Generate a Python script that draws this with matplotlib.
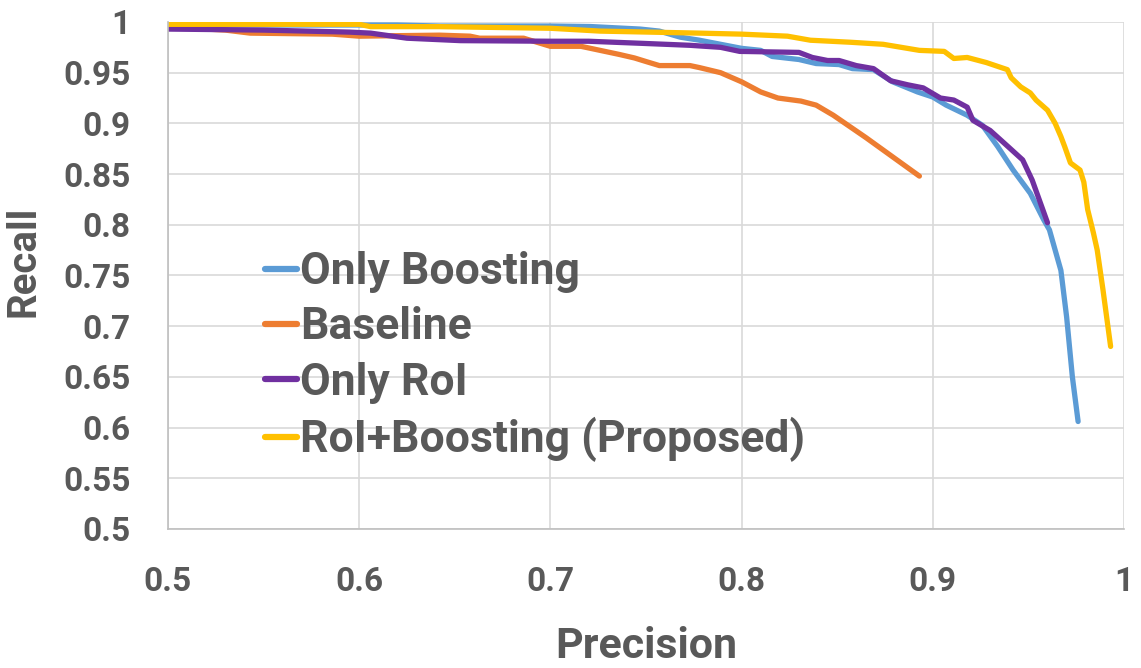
import matplotlib
matplotlib.use("Agg")
import matplotlib.pyplot as plt

# precision / recall
boost_p = [0.500, 0.560, 0.620, 0.642, 0.700, 0.721, 0.747, 0.757, 0.768, 0.778,
           0.789, 0.800, 0.810, 0.816, 0.830, 0.839, 0.851, 0.858, 0.869, 0.879,
           0.892, 0.900, 0.907, 0.918, 0.926, 0.934, 0.942, 0.951, 0.958, 0.961,
           0.967, 0.970, 0.973, 0.976]
boost_r = [0.997, 0.997, 0.997, 0.996, 0.996, 0.9955, 0.993, 0.991, 0.985, 0.982,
           0.978, 0.974, 0.972, 0.966, 0.963, 0.959, 0.958, 0.954, 0.953, 0.941,
           0.931, 0.926, 0.918, 0.908, 0.898, 0.877, 0.854, 0.831, 0.805, 0.795,
           0.755, 0.709, 0.650, 0.606]

base_p = [0.500, 0.530, 0.543, 0.586, 0.600, 0.642, 0.658, 0.663, 0.686, 0.700,
          0.716, 0.726, 0.736, 0.744, 0.750, 0.757, 0.773, 0.778, 0.789, 0.800,
          0.810, 0.819, 0.831, 0.839, 0.848, 0.865, 0.893]
base_r = [0.995, 0.992, 0.989, 0.988, 0.986, 0.987, 0.986, 0.984, 0.984, 0.976,
          0.976, 0.972, 0.968, 0.9645, 0.961, 0.957, 0.957, 0.955, 0.950, 0.941,
          0.931, 0.925, 0.922, 0.918, 0.908, 0.886, 0.848]

roi_p = [0.500, 0.550, 0.595, 0.606, 0.625, 0.653, 0.700, 0.720, 0.747, 0.773,
         0.789, 0.799, 0.830, 0.837, 0.845, 0.851, 0.860, 0.869, 0.878, 0.887,
         0.895, 0.904, 0.911, 0.918, 0.921, 0.930, 0.940, 0.947, 0.952, 0.960]
roi_r = [0.993, 0.992, 0.990, 0.989, 0.984, 0.9816, 0.981, 0.981, 0.979, 0.977,
         0.975, 0.971, 0.970, 0.965, 0.962, 0.962, 0.957, 0.954, 0.942, 0.938,
         0.935, 0.925, 0.923, 0.916, 0.903, 0.893, 0.876, 0.864, 0.844, 0.802]

prop_p = [0.500, 0.600, 0.606, 0.642, 0.700, 0.726, 0.778, 0.800, 0.824, 0.836,
          0.857, 0.874, 0.893, 0.906, 0.911, 0.918, 0.928, 0.939, 0.941, 0.946,
          0.951, 0.954, 0.960, 0.964, 0.967, 0.969, 0.972, 0.977, 0.979, 0.981,
          0.984, 0.986, 0.989, 0.993]
prop_r = [0.9977, 0.9977, 0.9954, 0.9954, 0.9938, 0.991, 0.989, 0.988, 0.986, 0.982,
          0.980, 0.978, 0.972, 0.971, 0.964, 0.965, 0.960, 0.953, 0.945, 0.936,
          0.930, 0.923, 0.913, 0.900, 0.887, 0.877, 0.861, 0.854, 0.842, 0.815,
          0.792, 0.775, 0.736, 0.680]

x_ticks = [0.5, 0.6, 0.7, 0.8, 0.9, 1.0]
x_labels = ["0.5", "0.6", "0.7", "0.8", "0.9", "1"]
y_ticks = [0.5, 0.55, 0.6, 0.65, 0.7, 0.75, 0.8, 0.85, 0.9, 0.95, 1.0]
y_labels = ["0.5", "0.55", "0.6", "0.65", "0.7", "0.75", "0.8", "0.85", "0.9", "0.95", "1"]

plt.rcParams['font.family'] = ['Roboto', 'DejaVu Sans']
grey = '#595959'

fig = plt.figure(figsize=(11.41, 6.68), dpi=100)
ax = fig.add_axes([0.1472, 0.2081, 0.8379, 0.7590])

lw = 3.8
ax.plot(boost_p, boost_r, color='#5B9BD5', lw=lw, solid_capstyle='round',
        solid_joinstyle='round', label="Only Boosting")
ax.plot(base_p, base_r, color='#ED7D31', lw=lw, solid_capstyle='round',
        solid_joinstyle='round', label="Baseline")
ax.plot(roi_p, roi_r, color='#7030A0', lw=lw, solid_capstyle='round',
        solid_joinstyle='round', label="Only RoI")
ax.plot(prop_p, prop_r, color='#FFC000', lw=lw, solid_capstyle='round',
        solid_joinstyle='round', label="RoI+Boosting (Proposed)")

ax.set_xlim(0.5, 1.0)
ax.set_ylim(0.5, 1.0)
ax.set_xticks(x_ticks)
ax.set_xticklabels(x_labels)
ax.set_yticks(y_ticks)
ax.set_yticklabels(y_labels)
ax.grid(True, color='#D9D9D9', lw=1.2)
ax.set_axisbelow(True)
ax.tick_params(length=0, labelsize=24, labelcolor=grey, pad=27)
for lab in ax.get_xticklabels() + ax.get_yticklabels():
    lab.set_fontweight('bold')

for s in ['top', 'right']:
    ax.spines[s].set_visible(False)
for s in ['left', 'bottom']:
    ax.spines[s].set_color('#BFBFBF')
    ax.spines[s].set_linewidth(1.2)

ax.set_xlabel("Precision", fontsize=31, fontweight='bold', color=grey, labelpad=20)
ax.set_ylabel("Recall", fontsize=29, fontweight='bold', color=grey)
ax.yaxis.set_label_coords(-0.131, 0.527)

leg = ax.legend(loc='upper left', bbox_to_anchor=(0.102, 0.548), frameon=False,
                fontsize=32, handlelength=0.72, handletextpad=0.05,
                labelspacing=0.3, borderpad=0, borderaxespad=0)
for t in leg.get_texts():
    t.set_color(grey)
    t.set_fontweight('bold')
for h in leg.legend_handles:
    h.set_linewidth(4.5)

fig.savefig("out.png", dpi=100)
